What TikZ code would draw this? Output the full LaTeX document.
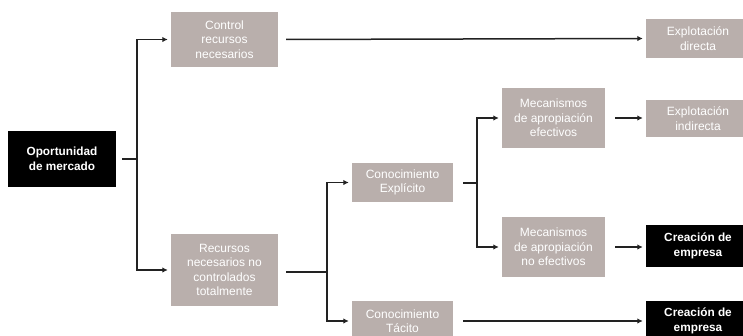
\documentclass[tikz,border=0pt]{standalone}
\usepackage{fontspec}
\setmainfont{Liberation Sans}
\usetikzlibrary{arrows.meta}
\definecolor{boxgray}{HTML}{B9AFAC}
\definecolor{linecol}{HTML}{222222}
\tikzset{
  graybox/.style={rectangle, fill=boxgray, inner sep=0pt, align=center, text=white,
    font=\fontsize{12}{14.5}\selectfont},
  blackbox/.style={rectangle, fill=black, inner sep=0pt, align=center, text=white,
    font=\bfseries\fontsize{11.8}{14.5}\selectfont},
  ln/.style={draw=linecol, line width=1.5pt},
  arr/.style={ln, -{Latex[length=5.5pt,width=5.5pt]}, shorten >=3pt},
}
\begin{document}
\begin{tikzpicture}[x=1pt,y=-1pt]
\useasboundingbox (0,0) rectangle (743,335);
% nodes
\node[blackbox, minimum width=108pt, minimum height=56pt] (opp) at (62,159) {Oportunidad\\de mercado};
\node[graybox, minimum width=107pt, minimum height=55pt] (ctrl) at (224.5,39.5) {Control\\recursos\\necesarios};
\node[graybox, minimum width=107pt, minimum height=72pt] (rec) at (224.5,270) {Recursos\\necesarios no\\controlados\\totalmente};
\node[graybox, minimum width=101pt, minimum height=39pt] (exp) at (402.5,182.5) {Conocimiento\\Explícito};
\node[graybox, minimum width=101pt, minimum height=40pt] (tac) at (402.5,321) {Conocimiento\\Tácito};
\node[graybox, minimum width=103pt, minimum height=60pt] (mef) at (553.5,118) {Mecanismos\\de apropiación\\efectivos};
\node[graybox, minimum width=103pt, minimum height=60pt] (mnef) at (553.5,247) {Mecanismos\\de apropiación\\no efectivos};
\node[graybox, minimum width=104pt, minimum height=39pt] (ed) at (698,38.5) {Explotación\\directa};
\node[graybox, minimum width=104pt, minimum height=37pt] (ei) at (698,118.5) {Explotación\\indirecta};
\node[blackbox, minimum width=104pt, minimum height=42pt] (ce1) at (698,246) {Creación de\\empresa};
\node[blackbox, minimum width=104pt, minimum height=40pt] (ce2) at (698,321) {Creación de\\empresa};
% junctions
\coordinate (j1) at (137,159);
\coordinate (j2) at (327,272);
\coordinate (j3) at (477,183);
% connectors
\draw[ln, shorten <=6pt] (opp.east) -- (j1);
\draw[arr] (j1) |- (ctrl.west);
\draw[arr] (j1) |- (rec.west);
\draw[arr, shorten <=8pt] (ctrl.east) -- (ed.west);
\draw[ln, shorten <=8pt] (rec.east |- j2) -- (j2);
\draw[arr] (j2) |- (exp.west);
\draw[arr] (j2) |- (tac.west);
\draw[ln, shorten <=10pt] (exp.east |- j3) -- (j3);
\draw[arr] (j3) |- (mef.west);
\draw[arr] (j3) |- (mnef.west);
\draw[arr, shorten <=10pt] (mef.east) -- (ei.west |- mef.east);
\draw[arr, shorten <=10pt] (mnef.east) -- (ce1.west |- mnef.east);
\draw[arr, shorten <=10pt] (tac.east) -- (ce2.west);
\end{tikzpicture}
\end{document}
